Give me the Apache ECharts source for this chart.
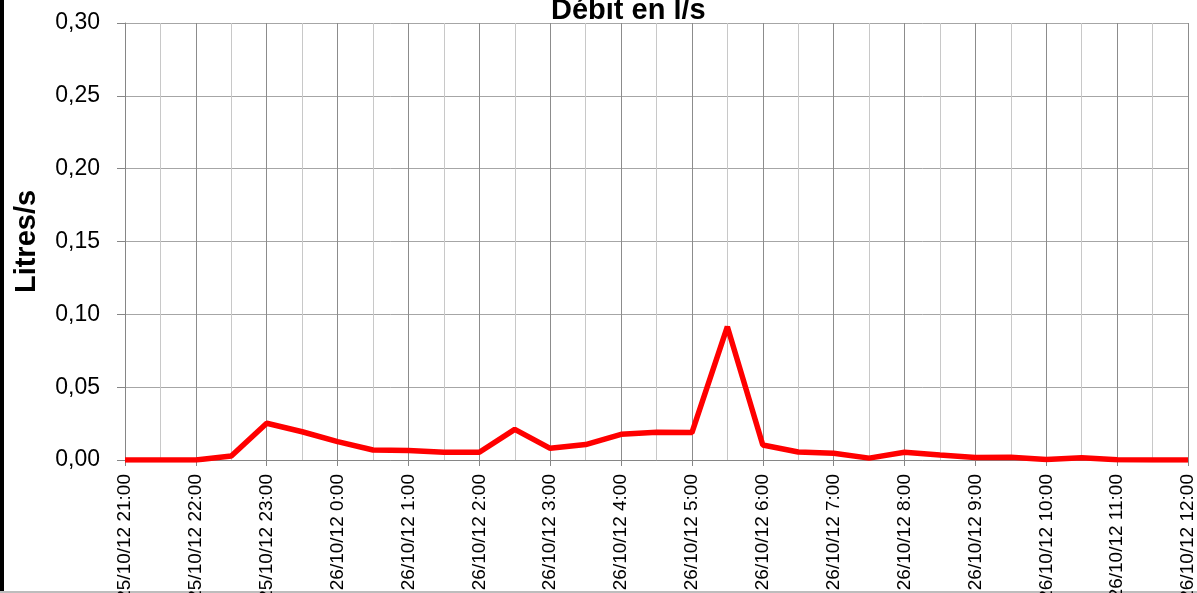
<!DOCTYPE html>
<html>
<head>
<meta charset="utf-8">
<script src="https://cdn.jsdelivr.net/npm/echarts@6/dist/echarts.min.js"></script>
<style>
  html, body { margin: 0; padding: 0; background: #fff; }
  #chart { width: 1197px; height: 593px; }
</style>
</head>
<body>
<div id="chart"></div>
<script>
// half-hour readings, 25/10/12 21:00 -> 26/10/12 12:00
var times = [
  '25/10/12 21:00', '25/10/12 21:30', '25/10/12 22:00', '25/10/12 22:30',
  '25/10/12 23:00', '25/10/12 23:30', '26/10/12 0:00', '26/10/12 0:30',
  '26/10/12 1:00', '26/10/12 1:30', '26/10/12 2:00', '26/10/12 2:30',
  '26/10/12 3:00', '26/10/12 3:30', '26/10/12 4:00', '26/10/12 4:30',
  '26/10/12 5:00', '26/10/12 5:30', '26/10/12 6:00', '26/10/12 6:30',
  '26/10/12 7:00', '26/10/12 7:30', '26/10/12 8:00', '26/10/12 8:30',
  '26/10/12 9:00', '26/10/12 9:30', '26/10/12 10:00', '26/10/12 10:30',
  '26/10/12 11:00', '26/10/12 11:30', '26/10/12 12:00'
]
var debit = [
  0, 0, 0, 0.0027,
  0.0252, 0.0194, 0.0126, 0.0069,
  0.0065, 0.0054, 0.0053, 0.021,
  0.008, 0.0106, 0.0176, 0.019,
  0.0188, 0.0915, 0.0103, 0.0055,
  0.0046, 0.0013, 0.0053, 0.0034,
  0.0017, 0.0019, 0.0004, 0.0016,
  0.0002, 0, 0
]
var yTicks = { min: 0, max: 0.3, step: 0.05 }

var font = 'Liberation Sans'
var chart = echarts.init(document.getElementById('chart'))

chart.setOption({
  animation: false,
  backgroundColor: '#fff',
  title: {
    text: 'Débit en l/s',
    left: 546,
    top: -9,
    textStyle: { fontFamily: font, fontSize: 29, fontWeight: 'bold', color: '#000' }
  },
  grid: { left: 125, right: 9, top: 23, bottom: 133, outerBoundsMode: 'none', containLabel: false },
  xAxis: {
    type: 'category',
    data: times,
    boundaryGap: false,
    axisLine: { lineStyle: { color: '#868686', width: 1 } },
    axisTick: { show: true, interval: 1, length: 6, lineStyle: { color: '#868686' } },
    axisLabel: {
      interval: 1, rotate: 90, margin: 14,
      fontFamily: font, fontSize: 19, color: '#000'
    },
    splitLine: {
      show: true, interval: 0,
      lineStyle: { color: ['#8c8c8c', '#c8c8c8'], width: 1 }
    }
  },
  yAxis: {
    type: 'value',
    min: yTicks.min,
    max: yTicks.max,
    interval: yTicks.step,
    name: 'Litres/s',
    nameLocation: 'middle',
    nameGap: 84,
    nameRotate: 90,
    nameTextStyle: { fontFamily: font, fontSize: 29, fontWeight: 'bold', color: '#000' },
    axisLine: { show: true, lineStyle: { color: '#868686' } },
    axisTick: { show: true, length: 8, lineStyle: { color: '#868686' } },
    axisLabel: {
      margin: 25, fontFamily: font, fontSize: 23, color: '#000',
      formatter: function (v) { return v.toFixed(2).replace('.', ',') }
    },
    splitLine: { show: true, lineStyle: { color: '#a6a6a6', width: 1 } }
  },
  graphic: [
    { type: 'rect', shape: { x: 0, y: 0, width: 4, height: 593 }, style: { fill: '#000' } },
    { type: 'rect', shape: { x: 0, y: 591, width: 1197, height: 2 }, style: { fill: '#bdbdbd' } }
  ],
  series: [{
    type: 'line',
    data: debit,
    showSymbol: false,
    symbol: 'none',
    lineStyle: { color: '#ff0000', width: 5.5 },
    z: 5
  }]
})
</script>
</body>
</html>
